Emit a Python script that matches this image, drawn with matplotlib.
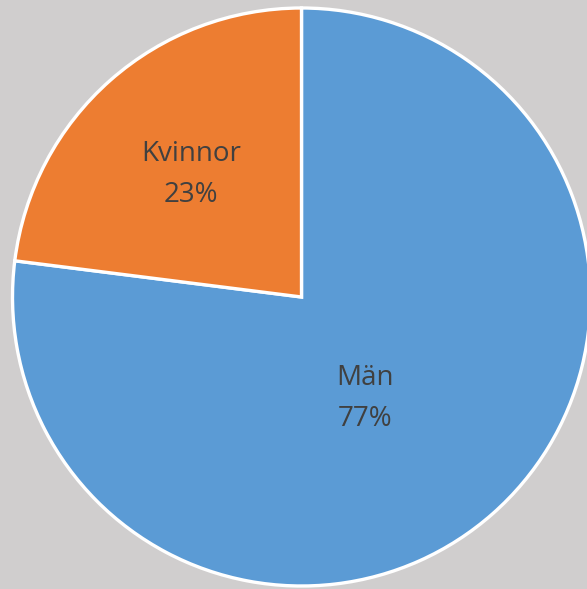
import matplotlib.pyplot as plt
import numpy as np

# Gender split
labels = ["Män", "Kvinnor"]
shares = [77, 23]
colors = ["#5B9BD5", "#ED7D31"]

fig = plt.figure(figsize=(5.87, 5.89), dpi=100)
fig.patch.set_facecolor("#D0CECE")
ax = fig.add_axes([0, 0, 1, 1])
ax.set_facecolor("#D0CECE")

cx, cy, r = 301.5, 292, 289
wedges, _ = ax.pie(shares, colors=colors, startangle=90, counterclock=False,
                   center=(cx, cy), radius=r, frame=True,
                   wedgeprops=dict(edgecolor="white", linewidth=2.4))
ax.set_xlim(0, 587)
ax.set_ylim(0, 589)
ax.set_aspect("equal")
ax.axis("off")

# label spots (fraction of radius, angle in degrees)
spots = [(0.415, -58), (0.57, 132)]
for lab, val, (d, a) in zip(labels, shares, spots):
    x = cx + d * r * np.cos(np.radians(a))
    y = cy + d * r * np.sin(np.radians(a))
    ax.text(x, y, f"{lab}\n{val}%", ha="center", va="center", fontsize=20,
            color="#404040", family="Open Sans", linespacing=1.6)

fig.savefig("out.png", dpi=100, facecolor=fig.get_facecolor())
